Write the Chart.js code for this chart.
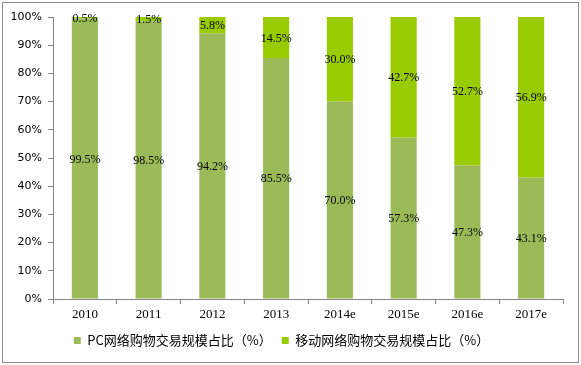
<!DOCTYPE html>
<html lang="zh">

<head>
    <meta charset="UTF-8">
    <title>PC / 移动网络购物交易规模占比</title>
    <script src="https://cdn.jsdelivr.net/npm/chart.js@4.4.0/dist/chart.umd.min.js"></script>
    <style>
        body {
            margin: 0;
            background: #fff;
        }
    </style>
</head>

<body>
    <canvas id="shareChart" width="581" height="365"></canvas>

    <script>
        const years = ['2010', '2011', '2012', '2013', '2014e', '2015e', '2016e', '2017e'];
        const pcShare = [99.5, 98.5, 94.2, 85.5, 70.0, 57.3, 47.3, 43.1];
        const mobileShare = [0.5, 1.5, 5.8, 14.5, 30.0, 42.7, 52.7, 56.9];
        const seriesNames = ['PC网络购物交易规模占比（%）', '移动网络购物交易规模占比（%）'];

        const axisGray = '#868686';

        // white background + thin gray frame round the whole picture
        const framePlugin = {
            id: 'frame',
            beforeDraw(chart) {
                const c = chart.ctx;
                c.save();
                c.fillStyle = '#fff';
                c.fillRect(0, 0, chart.width, chart.height);
                c.strokeStyle = '#8c8c8c';
                c.lineWidth = 1;
                c.strokeRect(2.5, 2.5, chart.width - 5, chart.height - 5);
                c.restore();
            }
        };

        // value labels in the middle of each stacked segment
        const segmentLabels = {
            id: 'segmentLabels',
            afterDatasetsDraw(chart) {
                const c = chart.ctx;
                c.save();
                c.font = '12px "Liberation Serif"';
                c.fillStyle = '#000';
                c.textAlign = 'center';
                c.textBaseline = 'middle';
                chart.data.datasets.forEach((ds, i) => {
                    chart.getDatasetMeta(i).data.forEach((bar, j) => {
                        const p = bar.getProps(['x', 'y', 'base'], true);
                        c.fillText(ds.data[j].toFixed(1) + '%', p.x, (p.y + p.base) / 2 + 1);
                    });
                });
                c.restore();
            }
        };

        new Chart(document.getElementById('shareChart'), {
            type: 'bar',
            data: {
                labels: years,
                datasets: [{
                    label: seriesNames[0],
                    data: pcShare,
                    backgroundColor: '#9bbb59',
                    barPercentage: 0.41,
                    categoryPercentage: 1
                }, {
                    label: seriesNames[1],
                    data: mobileShare,
                    backgroundColor: '#99cc00',
                    barPercentage: 0.41,
                    categoryPercentage: 1
                }]
            },
            options: {
                responsive: false,
                animation: false,
                devicePixelRatio: 1,
                layout: {
                    padding: { left: 0, right: 18, top: 17, bottom: 8 }
                },
                plugins: {
                    tooltip: { enabled: false },
                    legend: {
                        position: 'bottom',
                        labels: {
                            boxWidth: 7,
                            boxHeight: 7,
                            padding: 10,
                            color: '#000',
                            font: { family: '"Noto Sans CJK SC"', size: 13 }
                        }
                    }
                },
                scales: {
                    x: {
                        stacked: true,
                        afterFit(scale) { scale.height = 25; },
                        border: { color: axisGray },
                        grid: {
                            drawOnChartArea: false,
                            color: axisGray,
                            tickLength: 5
                        },
                        ticks: {
                            color: '#000',
                            padding: 3,
                            font: { family: '"Liberation Serif"', size: 13 }
                        }
                    },
                    y: {
                        stacked: true,
                        min: 0,
                        max: 100,
                        afterFit(scale) { scale.width = 53; },
                        border: { color: axisGray },
                        grid: {
                            drawOnChartArea: false,
                            color: axisGray,
                            tickLength: 5
                        },
                        ticks: {
                            stepSize: 10,
                            color: '#000',
                            padding: 6,
                            font: { family: '"DejaVu Sans"', size: 11 },
                            callback: v => v + '%'
                        }
                    }
                }
            },
            plugins: [framePlugin, segmentLabels]
        });
    </script>
</body>

</html>
